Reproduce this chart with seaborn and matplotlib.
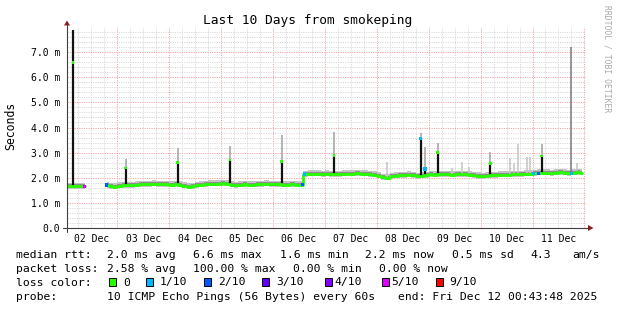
import numpy as np
import pandas as pd
import matplotlib
matplotlib.use("Agg")
import matplotlib.pyplot as plt
import seaborn as sns
from matplotlib.lines import Line2D
from matplotlib.patches import Polygon, Rectangle

# ---------------- data (hours since 02 Dec 00:00, values in ms) ----------------
title = "Last 10 Days from smokeping"
day_labels = ["02 Dec", "03 Dec", "04 Dec", "05 Dec", "06 Dec",
              "07 Dec", "08 Dec", "09 Dec", "10 Dec", "11 Dec"]
y_tick_labels = ["0.0", "1.0 m", "2.0 m", "3.0 m", "4.0 m", "5.0 m", "6.0 m", "7.0 m"]

bin_hours = np.arange(1, 240, 2)  # 2-hour bins
median_ms = [
    1.67, 1.67, 1.66, 1.67, 1.66, np.nan, np.nan, np.nan, np.nan, 1.71,
    1.66, 1.64, 1.68, 1.70, 1.71, 1.70, 1.72, 1.74, 1.75, 1.74,
    1.76, 1.75, 1.74, 1.75, 1.73, 1.74, 1.72, 1.68, 1.64, 1.67,
    1.70, 1.73, 1.75, 1.76, 1.76, 1.77, 1.78, 1.77, 1.72, 1.71,
    1.72, 1.74, 1.73, 1.72, 1.74, 1.75, 1.76, 1.75, 1.74, 1.75,
    1.72, 1.73, 1.74, 1.73, 1.72, 2.13, 2.15, 2.16, 2.15, 2.14,
    2.15, 2.14, 2.13, 2.14, 2.15, 2.16, 2.16, 2.17, 2.16, 2.15,
    2.14, 2.12, 2.08, 2.02, 2.00, 2.05, 2.08, 2.09, 2.10, 2.12,
    2.10, 2.05, 2.08, 2.10, 2.13, 2.12, 2.13, 2.14, 2.13, 2.12,
    2.13, 2.14, 2.13, 2.11, 2.09, 2.07, 2.06, 2.08, 2.09, 2.10,
    2.11, 2.12, 2.12, 2.13, 2.14, 2.13, 2.15, 2.16, 2.17, 2.19,
    2.20, 2.19, 2.18, 2.20, 2.21, 2.19, 2.17, 2.20, 2.21, 2.20,
]
segment_id = [0] * 5 + [-1] * 4 + [1] * 111

# smoke band spread around the median (ms)
smoke_dark_below, smoke_dark_above = 0.07, 0.08
smoke_light_below, smoke_light_above = 0.10, 0.14

# median spikes: time, black top, median value (dot), smoke top
spike_hours = [3.5, 27.9, 52.0, 76.1, 100.1, 124.2, 164.3, 166.3, 172.1, 196.4, 220.2]
spike_black_top = [7.9, 2.39, 2.60, 2.71, 2.66, 2.90, 3.57, 2.35, 3.00, 2.58, 2.87]
spike_value = [6.6, 2.39, 2.60, 2.71, 2.66, 2.90, 3.57, 2.35, 3.00, 2.58, 2.87]
spike_smoke_top = [7.9, 2.75, 3.20, 3.27, 3.70, 3.84, 3.80, 3.24, 3.40, 3.04, 3.35]
spike_loss = ["0", "0", "0", "0", "0", "0", "1/10", "1/10", "0", "0", "0"]

# single-ping outliers (smoke only)
outlier_hours = [148.7, 178.6, 183.2, 186.7, 205.6, 207.4, 209.4, 213.3, 214.8, 236.4]
outlier_top = [2.62, 2.38, 2.62, 2.44, 2.78, 2.58, 3.35, 2.84, 2.84, 2.58]
big_outlier_hour = [233.8]
big_outlier_top = [7.2]

# samples with packet loss: time, value, loss class
loss_hours = [8.7, 19.2, 109.8, 110.7, 166.3, 216.3, 218.8, 234.0]
loss_value = [1.66, 1.71, 1.72, 2.15, 2.35, 2.17, 2.18, 2.16]
loss_class = ["5/10", "2/10", "2/10", "1/10", "1/10", "1/10", "2/10", "1/10"]

loss_names = ["0", "1/10", "2/10", "3/10", "4/10", "5/10", "9/10"]
loss_colors = ["#26ff00", "#00b8ff", "#0059ff", "#5e00ff", "#7e00ff", "#dd00ff", "#ff0000"]

legend_lines = [
    ("median rtt:", [("2.0 ms avg", 107.3), ("6.6 ms max", 193.3), ("1.6 ms min", 280.0),
                     ("2.2 ms now", 365.0), ("0.5 ms sd", 451.7), ("4.3", 530.0), ("am/s", 572.7)]),
    ("packet loss:", [("2.58 % avg", 107.3), ("100.00 % max", 193.3), ("0.00 % min", 293.3),
                      ("0.00 % now", 379.3)]),
    ("probe:", [("10 ICMP Echo Pings (56 Bytes) every 60s", 107.3),
                ("end: Fri Dec 12 00:43:48 2025", 398.3)]),
]
watermark = "RRDTOOL / TOBI OETIKER"

# ---------------- styling ----------------
sns.set_theme(style="white")
plt.rcParams["font.family"] = ["DejaVu Sans Mono"]
plt.rcParams["text.color"] = "black"

W, H = 617, 310
fig = plt.figure(figsize=(W / 100, H / 100), dpi=100)
fig.patch.set_facecolor("white")


def fx(px):
    return px / W


def fy(py):
    return 1 - py / H


ax = fig.add_axes([fx(67), fy(228), 519 / W, 201 / H])
ax.set_facecolor("white")
x0, x1 = 0.73, 240.73
ax.set_xlim(x0, x1)
ax.set_ylim(0, 8)
for s in ax.spines.values():
    s.set_visible(False)

# grid
major_c, minor_c = "#f4a4a4", "#d9d9d9"
for h in range(6, 241, 6):
    c = major_c if h % 24 == 0 else minor_c
    ax.axvline(h, color=c, lw=0.7, ls=(0, (1.2, 1.2)), zorder=0)
for k in range(1, 40):
    v = k * 0.2
    c = major_c if k % 5 == 0 else minor_c
    ax.axhline(v, color=c, lw=0.7, ls=(0, (1.2, 1.2)), zorder=0)

df = pd.DataFrame({"h": bin_hours, "ms": median_ms, "seg": segment_id})
med = np.array(median_ms, dtype=float)

# smoke
ax.fill_between(bin_hours, med - smoke_light_below, med + smoke_light_above,
                step="mid", color="#c4c4c4", lw=0, zorder=1)
ax.fill_between(bin_hours, med - smoke_dark_below, med + smoke_dark_above,
                step="mid", color="#8e8e8e", lw=0, zorder=1.5)

# outliers
valid = ~np.isnan(med)
base_o = np.interp(outlier_hours, bin_hours[valid], med[valid])
ax.vlines(outlier_hours, base_o, outlier_top, color="#c4c4c4", lw=1.1, zorder=2)
base_b = np.interp(big_outlier_hour, bin_hours[valid], med[valid])
ax.vlines(big_outlier_hour, base_b, big_outlier_top, color="#7a7a7a", lw=1.1, zorder=2)

# spikes
base_s = np.interp(spike_hours, bin_hours[valid], med[valid])
ax.vlines(spike_hours, spike_black_top, spike_smoke_top, color="#a8a8a8", lw=1.2, zorder=2)
ax.vlines(spike_hours, base_s, spike_black_top, color="#111111", lw=1.6, zorder=3)

# median line
sns.lineplot(data=df[df["seg"] >= 0], x="h", y="ms", units="seg", estimator=None,
             color="#26ff00", lw=2.0, drawstyle="steps-mid", ax=ax, zorder=4,
             legend=False)

# spike dots
cmap = dict(zip(loss_names, loss_colors))
ax.scatter(spike_hours, spike_value, marker="s", s=4,
           c=[cmap[c] for c in spike_loss], lw=0, zorder=5)
ax.scatter(loss_hours, loss_value, marker="s", s=5,
           c=[cmap[c] for c in loss_class], lw=0, zorder=5)

# ticks
ax.set_yticks(range(8))
ax.set_yticklabels(y_tick_labels)
ax.set_xticks([12 + 24 * i for i in range(10)])
ax.set_xticklabels(day_labels)
ax.tick_params(axis="y", length=0, pad=5, labelsize=7, labelcolor="black")
ax.tick_params(axis="x", length=0, pad=4.3, labelsize=7, labelcolor="black")
ax.set_xlabel("")
ax.set_ylabel("")

# axis lines and arrows
axis_c = "#404040"
arrow_c = "#8b1a1a"
fig.add_artist(Line2D([fx(67), fx(67)], [fy(232), fy(25)], color=axis_c, lw=0.8))
fig.add_artist(Line2D([fx(63), fx(588)], [fy(228), fy(228)], color=axis_c, lw=0.8))
fig.add_artist(Polygon([[fx(64), fy(25.5)], [fx(70), fy(25.5)], [fx(67), fy(20.5)]],
                       closed=True, transform=fig.transFigure, color=arrow_c, lw=0))
fig.add_artist(Polygon([[fx(588), fy(225)], [fx(588), fy(231)], [fx(593.5), fy(228)]],
                       closed=True, transform=fig.transFigure, color=arrow_c, lw=0))

# title, y label, watermark
fig.text(fx(308), fy(24), title, ha="center", va="baseline", fontsize=9.3)
fig.text(fx(11), fy(126), "Seconds", rotation=90, ha="center", va="center", fontsize=8.3)
fig.text(fx(607), fy(5), watermark, rotation=270, ha="center", va="top",
         fontsize=5.8, color="#a8a8a8")

# legend
fs = 8.2
baselines = [258, 272, 285.5, 299.5]
for (head, parts), yb in zip(legend_lines, [baselines[0], baselines[1], baselines[3]]):
    fig.text(fx(16), fy(yb), head, ha="left", va="baseline", fontsize=fs)
    for txt, xp in parts:
        fig.text(fx(xp), fy(yb), txt, ha="left", va="baseline", fontsize=fs)

fig.text(fx(16), fy(baselines[2]), "loss color:", ha="left", va="baseline", fontsize=fs)
sq_x = [109, 146, 203.7, 261.7, 325, 381.7, 436]
txt_x = [123.3, 160, 218.3, 276, 334.3, 391.7, 449.3]
for name, col, sx, tx in zip(loss_names, loss_colors, sq_x, txt_x):
    fig.add_artist(Rectangle((fx(sx), fy(baselines[2])), 7 / W, 8 / H,
                             transform=fig.transFigure, facecolor=col,
                             edgecolor="black", lw=0.7))
    fig.text(fx(tx), fy(baselines[2]), name, ha="left", va="baseline", fontsize=fs)

fig.savefig("out.png", dpi=100, facecolor="white")
